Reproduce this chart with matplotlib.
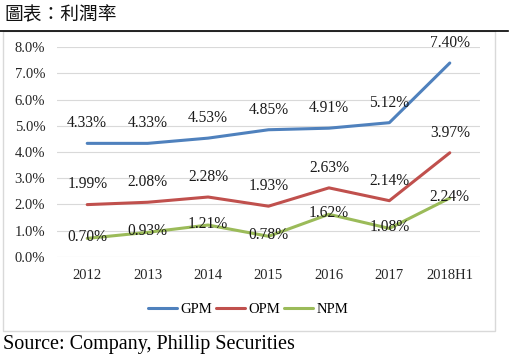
import matplotlib
matplotlib.use("Agg")
import matplotlib.pyplot as plt
from matplotlib.patches import Rectangle
from matplotlib.lines import Line2D

categories = ["2012", "2013", "2014", "2015", "2016", "2017", "2018H1"]
gpm = [4.33, 4.33, 4.53, 4.85, 4.91, 5.12, 7.40]
opm = [1.99, 2.08, 2.28, 1.93, 2.63, 2.14, 3.97]
npm = [0.70, 0.93, 1.21, 0.78, 1.62, 1.08, 2.24]
yticks = [0, 1, 2, 3, 4, 5, 6, 7, 8]

W, H = 509, 357
fig = plt.figure(figsize=(W / 100, H / 100), dpi=100)

def fx(px):
    return px / W

def fy(py):
    return 1 - py / H

serif = "Liberation Serif"

# outer frame and top rule
fig.patches.append(Rectangle((fx(3), fy(331)), fx(495) - fx(3), fy(31) - fy(331),
                             transform=fig.transFigure, fill=False,
                             edgecolor="#D9D9D9", linewidth=1.0))
fig.lines.append(Line2D([fx(0), fx(508)], [fy(31), fy(31)], transform=fig.transFigure,
                        color="black", linewidth=1.2))

fig.text(fx(4), fy(15), "圖表：利潤率", family=["Noto Sans CJK TC", "DejaVu Sans"],
         fontsize=13.5, va="center", ha="left", color="#111111")
fig.text(fx(3), fy(344), "Source: Company, Phillip Securities", family=serif,
         fontsize=14.5, va="center", ha="left", color="black")

ax = fig.add_axes([fx(57), fy(256.7), fx(480) - fx(57), fy(47.3) - fy(256.7)])
x = list(range(len(categories)))
colors = {"GPM": "#4F81BD", "OPM": "#C0504D", "NPM": "#9BBB59"}
ax.plot(x, gpm, color=colors["GPM"], linewidth=2.2, label="GPM", solid_capstyle="round")
ax.plot(x, opm, color=colors["OPM"], linewidth=2.2, label="OPM", solid_capstyle="round")
ax.plot(x, npm, color=colors["NPM"], linewidth=2.2, label="NPM", solid_capstyle="round")

for series, off in ((gpm, 14.5), (opm, 14.5), (npm, 1)):
    for xi, v in zip(x, series):
        ax.annotate(f"{v:.2f}%", (xi, v), xytext=(0, off), textcoords="offset points",
                    ha="center", va="center", family=serif, fontsize=11.2, color="#1a1a1a")

ax.set_xlim(-0.5, len(categories) - 0.5)
ax.set_ylim(0, 8)
ax.set_yticks(yticks)
ax.set_yticklabels([f"{t:.1f}%" for t in yticks], family=serif, fontsize=10.5, color="#262626")
ax.set_xticks(x)
ax.set_xticklabels(categories, family=serif, fontsize=10.5, color="#262626")
ax.tick_params(axis="both", length=0)
ax.tick_params(axis="y", pad=8.5)
ax.tick_params(axis="x", pad=9)
ax.grid(axis="y", color="#D9D9D9", linewidth=0.8)
ax.set_axisbelow(True)
for s in ax.spines.values():
    s.set_visible(False)

handles, labels = ax.get_legend_handles_labels()
leg = fig.legend(handles, labels, loc="center", bbox_to_anchor=(fx(248), fy(309)), ncol=3,
                 frameon=False, prop={"family": serif, "size": 10.5},
                 handlelength=2.0, handletextpad=0.2, columnspacing=0.3)

fig.savefig("out.png", dpi=100)
